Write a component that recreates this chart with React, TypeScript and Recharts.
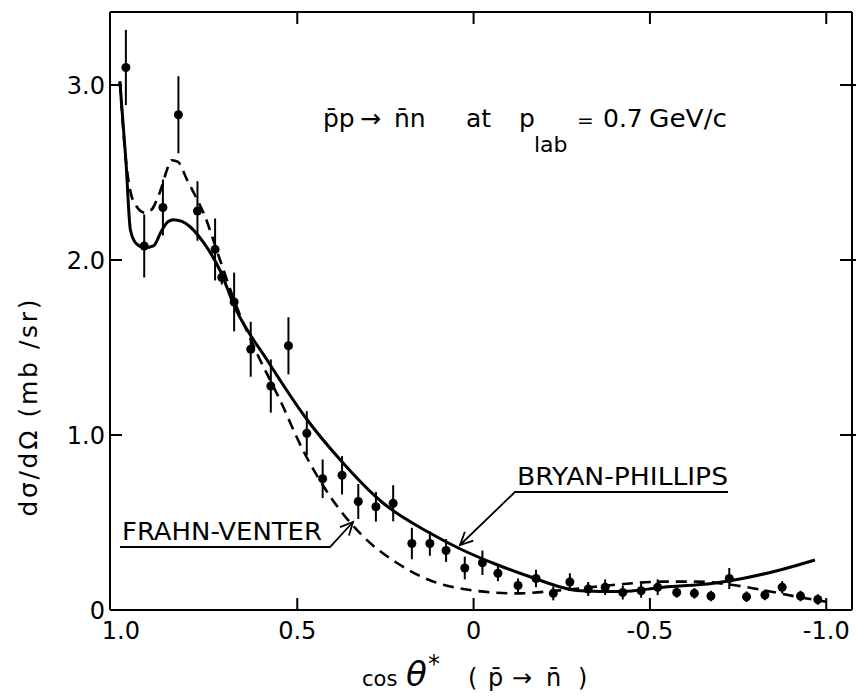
import React from "react";
import { ComposedChart, XAxis, YAxis, Line, Scatter, ErrorBar } from "recharts";

const FONT = "'DejaVu Sans', sans-serif";

// axis ticks
const xTicks = [1, 0.5, 0, -0.5, -1];
const xTickLabels = ["1.0", "0.5", "0", "-0.5", "-1.0"];
const yTicks = [0, 1, 2, 3];
const yTickLabels = ["0", "1.0", "2.0", "3.0"];

// measured points: cos theta*, d sigma / d omega (mb/sr), error
const cosTheta = [
  0.986, 0.934, 0.881, 0.837, 0.783, 0.733, 0.714, 0.679, 0.632, 0.575,
  0.525, 0.473, 0.428, 0.373, 0.327, 0.277, 0.228, 0.175, 0.124, 0.078,
  0.025, -0.025, -0.069, -0.126, -0.177, -0.226, -0.273, -0.325, -0.373, -0.423,
  -0.475, -0.522, -0.576, -0.626, -0.673, -0.725, -0.774, -0.826, -0.875, -0.927,
  -0.976,
];
const dsigma = [
  3.1, 2.08, 2.3, 2.83, 2.28, 2.06, 1.9, 1.76, 1.49, 1.28,
  1.51, 1.01, 0.75, 0.77, 0.62, 0.59, 0.61, 0.38, 0.38, 0.34,
  0.24, 0.27, 0.21, 0.14, 0.18, 0.095, 0.16, 0.12, 0.13, 0.1,
  0.11, 0.13, 0.1, 0.095, 0.08, 0.18, 0.076, 0.086, 0.13, 0.08,
  0.06,
];
const dsigmaErr = [
  0.215, 0.18, 0.16, 0.22, 0.17, 0.177, 0.04, 0.168, 0.157, 0.152,
  0.163, 0.126, 0.11, 0.11, 0.1, 0.085, 0.103, 0.09, 0.07, 0.065,
  0.065, 0.07, 0.045, 0.04, 0.05, 0.04, 0.05, 0.04, 0.045, 0.04,
  0.04, 0.045, 0.03, 0.03, 0.03, 0.06, 0.03, 0.03, 0.035, 0.03,
  0.03,
];

// Bryan-Phillips curve (solid)
const bpCos = [
  1.003, 0.986, 0.973, 0.955, 0.932, 0.908, 0.884, 0.866, 0.851, 0.827,
  0.804, 0.766, 0.719, 0.677, 0.586, 0.473, 0.379, 0.256, 0.124, 0.039,
  -0.065, -0.16, -0.302, -0.415, -0.538, -0.68, -0.755, -0.869, -0.968,
];
const bpSigma = [
  3.02, 2.57, 2.17, 2.09, 2.07, 2.08, 2.17, 2.22, 2.23, 2.22,
  2.19, 2.1, 1.94, 1.73, 1.43, 1.09, 0.86, 0.61, 0.44, 0.35,
  0.26, 0.19, 0.11, 0.105, 0.13, 0.153, 0.177, 0.229, 0.286,
];

// Frahn-Venter curve (dashed)
const fvCos = [
  1.003, 0.986, 0.974, 0.957, 0.932, 0.912, 0.899, 0.884, 0.872, 0.856,
  0.838, 0.813, 0.79, 0.766, 0.719, 0.679, 0.615, 0.549, 0.483, 0.407,
  0.313, 0.218, 0.124, 0.01, -0.122, -0.253, -0.395, -0.537, -0.633, -0.735,
  -0.821, -0.916, -1.001,
];
const fvSigma = [
  3.02, 2.57, 2.4, 2.31, 2.27, 2.29, 2.34, 2.42, 2.5, 2.57,
  2.56, 2.46, 2.37, 2.27, 2.0, 1.77, 1.47, 1.2, 0.91, 0.65,
  0.42, 0.27, 0.17, 0.114, 0.095, 0.114, 0.143, 0.162, 0.162, 0.143,
  0.114, 0.076, 0.047,
];

const points = cosTheta.map((x, i) => ({ x, y: dsigma[i], err: dsigmaErr[i] }));
const bpData = bpCos.map((x, i) => ({ x, y: bpSigma[i] }));
const fvData = fvCos.map((x, i) => ({ x, y: fvSigma[i] }));

const X_DOMAIN: [number, number] = [-1.073, 1.031];
const Y_DOMAIN: [number, number] = [0, 3.417];
const TICK_LEN = 12;

const BottomTick = (props: any) => {
  const { x, y, payload } = props;
  const i = xTicks.indexOf(payload.value);
  return (
    <g>
      {payload.value !== 1 && (
        <line x1={x} x2={x} y1={y} y2={y - TICK_LEN} stroke="#000" strokeWidth={2} />
      )}
      <text x={x} y={y + 29} textAnchor="middle" fontSize={24} fontFamily={FONT} fill="#000">
        {xTickLabels[i]}
      </text>
    </g>
  );
};

const TopTick = (props: any) => {
  const { x, y, payload } = props;
  if (payload.value === 1) return <g />;
  return <line x1={x} x2={x} y1={y} y2={y + TICK_LEN} stroke="#000" strokeWidth={2} />;
};

const LeftTick = (props: any) => {
  const { x, y, payload } = props;
  const i = yTicks.indexOf(payload.value);
  return (
    <g>
      {payload.value !== 0 && (
        <line x1={x} x2={x + TICK_LEN} y1={y} y2={y} stroke="#000" strokeWidth={2} />
      )}
      <text x={x - 5} y={y + 9} textAnchor="end" fontSize={24} fontFamily={FONT} fill="#000">
        {yTickLabels[i]}
      </text>
    </g>
  );
};

const RightTick = (props: any) => {
  const { x, y, payload } = props;
  if (payload.value === 0) return <g />;
  return <line x1={x - TICK_LEN} x2={x + 4} y1={y} y2={y} stroke="#000" strokeWidth={2} />;
};

function arrowHead(tx: number, ty: number, fx: number, fy: number) {
  const a = Math.atan2(fy - ty, fx - tx);
  const len = 14;
  const s = 0.45;
  const p1 = `${tx + len * Math.cos(a + s)},${ty + len * Math.sin(a + s)}`;
  const p2 = `${tx + len * Math.cos(a - s)},${ty + len * Math.sin(a - s)}`;
  return `M${p1} L${tx},${ty} L${p2}`;
}

const Annotations = () => (
  <svg
    width={856}
    height={697}
    style={{ position: "absolute", left: 0, top: 0, pointerEvents: "none" }}
    fontFamily={FONT}
    fill="#000"
  >
    {/* reaction */}
    <g fontSize={25}>
      <text x={323} y={127}>{"p\u0304p"}</text>
      <text x={360} y={127}>→</text>
      <text x={394} y={127}>{"n\u0304n"}</text>
      <text x={466} y={127}>at</text>
      <text x={519} y={127}>p</text>
      <text x={534} y={152} fontSize={22}>lab</text>
      <text x={577} y={127} fontSize={20}>=</text>
      <text x={603} y={127}>0.7</text>
      <text x={649} y={127} textLength={78} lengthAdjust="spacingAndGlyphs">GeV/c</text>
    </g>

    {/* curve labels */}
    <text x={517} y={485} fontSize={25} textLength={211} lengthAdjust="spacingAndGlyphs">
      BRYAN-PHILLIPS
    </text>
    <path d="M728,492 L515,492 L460,545" fill="none" stroke="#000" strokeWidth={1.8} />
    <path d={arrowHead(460, 545, 515, 492)} fill="none" stroke="#000" strokeWidth={1.8} />

    <text x={122} y={540} fontSize={25} textLength={200} lengthAdjust="spacingAndGlyphs">
      FRAHN-VENTER
    </text>
    <path d="M120,547 L330,547 L353,522" fill="none" stroke="#000" strokeWidth={1.8} />
    <path d={arrowHead(353, 522, 330, 547)} fill="none" stroke="#000" strokeWidth={1.8} />

    {/* y axis title */}
    <text
      transform="translate(37,408) rotate(-90)"
      textAnchor="middle"
      fontSize={25}
      textLength={217}
      lengthAdjust="spacing"
    >
      {"d\u03c3/d\u03a9 (mb /sr)"}
    </text>

    {/* x axis title */}
    <g fontSize={24}>
      <text x={362} y={686} fontSize={21}>cos</text>
      <text x={406} y={686} fontSize={34} fontStyle="italic">θ</text>
      <text x={428} y={672} fontSize={24}>*</text>
      <text x={468} y={686}>(</text>
      <text x={488} y={686}>{"p\u0304"}</text>
      <text x={512} y={686}>→</text>
      <text x={546} y={686}>{"n\u0304"}</text>
      <text x={578} y={686}>)</text>
    </g>
  </svg>
);

export default function App() {
  const axisLine = { stroke: "#000", strokeWidth: 2 };
  return (
    <div style={{ position: "absolute", left: 0, top: 0, width: 856, height: 697, background: "#fff" }}>
      <ComposedChart width={856} height={697} margin={{ top: 10, right: 2, bottom: 57, left: 50 }}>
        <XAxis
          dataKey="x"
          type="number"
          domain={X_DOMAIN}
          reversed
          allowDataOverflow
          ticks={xTicks}
          interval={0}
          height={30}
          tickSize={0}
          tickMargin={0}
          tickLine={false}
          axisLine={axisLine}
          tick={(p: any) => <BottomTick {...p} />}
        />
        <XAxis
          xAxisId="top"
          orientation="top"
          dataKey="x"
          type="number"
          domain={X_DOMAIN}
          reversed
          allowDataOverflow
          ticks={xTicks}
          interval={0}
          height={2}
          tickSize={0}
          tickMargin={0}
          tickLine={false}
          axisLine={axisLine}
          tick={(p: any) => <TopTick {...p} />}
        />
        <YAxis
          dataKey="y"
          type="number"
          domain={Y_DOMAIN}
          allowDataOverflow
          ticks={yTicks}
          interval={0}
          width={60}
          tickSize={0}
          tickMargin={0}
          tickLine={false}
          axisLine={axisLine}
          tick={(p: any) => <LeftTick {...p} />}
        />
        <YAxis
          yAxisId="right"
          orientation="right"
          type="number"
          domain={Y_DOMAIN}
          allowDataOverflow
          ticks={yTicks}
          interval={0}
          width={2}
          tickSize={0}
          tickMargin={0}
          tickLine={false}
          axisLine={axisLine}
          tick={(p: any) => <RightTick {...p} />}
        />
        <Line
          data={fvData}
          dataKey="y"
          type="monotone"
          stroke="#000"
          strokeWidth={2.6}
          strokeDasharray="11 7"
          dot={false}
          activeDot={false}
          isAnimationActive={false}
        />
        <Line
          data={bpData}
          dataKey="y"
          type="monotone"
          stroke="#000"
          strokeWidth={3}
          dot={false}
          activeDot={false}
          isAnimationActive={false}
        />
        <Scatter
          data={points}
          dataKey="y"
          isAnimationActive={false}
          shape={(p: any) => <circle cx={p.cx} cy={p.cy} r={4.5} fill="#000" />}
        >
          <ErrorBar dataKey="err" direction="y" width={0} stroke="#000" strokeWidth={2} />
        </Scatter>
      </ComposedChart>
      <Annotations />
    </div>
  );
}
